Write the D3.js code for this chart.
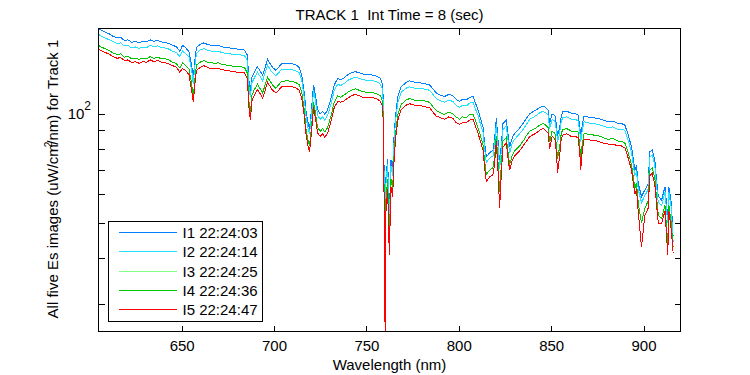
<!DOCTYPE html>
<html>
<head>
<meta charset="utf-8">
<script src="https://cdn.jsdelivr.net/npm/d3@7"></script>
<style>
 body { margin: 0; background: #fff; }
 text { font-family: "Liberation Sans", Arial, Helvetica, sans-serif; fill: #000; }
 .narrow { font-family: "Liberation Sans Narrow", "Liberation Sans", Arial, sans-serif; }
</style>
</head>
<body>
<script>
 // Es spectra of track 1, five images

 // wavelengths (nm), shared by all five images
 var wavelength = [
 	605, 607, 609, 611, 613, 615, 617, 619, 621, 623,
 	625, 627, 629, 631, 633, 635, 637, 639, 641, 643,
 	645, 647, 649, 650.5, 652, 654, 655.5, 656.3, 657, 658,
 	660, 662, 664, 666, 668, 670, 672, 674, 676, 678,
 	680, 682, 684, 685.5, 686.5, 687.2, 688, 689, 691, 692.5,
 	693.8, 695, 696.5, 698, 699.2, 701, 702.5, 704, 706, 708,
 	710, 712, 713.6, 715, 716.3, 717.3, 718.3, 719.2, 720.3, 721.4,
 	722.2, 723.6, 725, 726.3, 727.5, 729, 730.8, 732.6, 734.5, 736,
 	738, 740, 742, 744, 746, 748, 750, 752, 754, 756,
 	757.6, 758.9, 759.4, 759.8, 760.2, 760.6, 761.5, 762.4, 763.3, 764.2,
 	765.1, 766, 767, 768.8, 771.5, 773.3, 776, 778.7, 781, 784.1,
 	786, 787.8, 790, 792.3, 794.5, 796.8, 798.5, 800.4, 802, 804,
 	806, 807.7, 809, 810.4, 812, 813.1, 814, 814.9, 816.7, 818.5,
 	819.4, 820.3, 821.2, 822.1, 823, 823.9, 825.7, 826.6, 827.5, 829,
 	830.2, 832.9, 834.8, 836.6, 838.4, 840.2, 842, 843.8, 845.6, 847,
 	848.3, 849.2, 850.5, 852, 853, 853.4, 854.5, 855.5, 856.4, 858.5,
 	861, 863, 864.6, 865.5, 866, 866.8, 867.8, 869.1, 872, 875.4,
 	878, 880.8, 883.5, 886.3, 888, 889.9, 891.7, 893.5, 895.3, 896.2,
 	897.1, 898.9, 900.7, 902.5, 903.4, 904.7, 906.1, 907, 908, 909.8,
 	911.6, 913.1, 913.7, 915, 916
 ];

 // I1 22:24:03
 var es1 = [
 	171, 169, 167, 165.5, 163, 161.5, 162, 159, 159.5, 157,
 	158, 156.5, 158, 157.5, 159.5, 158, 159, 157.5, 157, 156,
 	154, 153, 148.5, 154, 152, 148, 135, 125, 138, 152,
 	155, 156.5, 155, 154, 153.5, 154, 152.5, 152, 151.5, 151,
 	150.5, 150.5, 149.5, 145, 122, 115, 126, 129, 134.5, 131,
 	127.5, 133, 141, 137, 134, 131.5, 134, 137, 137.5, 137.5,
 	137, 136, 134, 128, 115, 102, 95, 91, 103, 120,
 	114, 102.5, 100, 101.5, 99.5, 102.5, 110, 120, 125, 124,
 	125.5, 128, 129.5, 130.5, 129.5, 128.5, 128, 128, 127.5, 126.5,
 	125, 120, 86, 50, 32, 67, 75, 52, 74.6, 70,
 	90, 101, 111.4, 118.6, 121.7, 123, 122, 121.7, 121, 120,
 	117, 114, 112.5, 111.4, 113, 112, 109.5, 108, 109.5, 109,
 	111, 111.4, 107, 102.4, 96, 92, 83, 76.2, 78, 79.5,
 	85, 97, 85, 73, 82, 94, 96, 88, 81, 86,
 	88.3, 91.2, 94, 97, 100, 101.3, 102.5, 104, 105, 104,
 	102.4, 94.1, 99.8, 99, 92, 86.5, 91, 99, 101.3, 101.5,
 	100.2, 100, 99.2, 92, 86.5, 93, 98.5, 98.1, 97.5, 97.1,
 	96, 95, 95.5, 94, 94, 93, 87.4, 81, 70, 72,
 	64.4, 59.2, 61.7, 64, 78.6, 79.5, 74.6, 66, 59.2, 57.9,
 	63, 52, 63, 57, 46
 ];

 // I2 22:24:14
 var es2 = [
 	165, 163, 161, 159.5, 157.5, 156, 156.5, 153.5, 154, 151.5,
 	152.5, 151, 152.5, 152, 154, 152.5, 153.5, 152, 151.5, 150.5,
 	148.5, 147.5, 143.5, 148.5, 146.5, 143, 130.5, 120.5, 133, 146.5,
 	149.5, 151, 149.5, 148.5, 148, 148.5, 147, 146.5, 146, 145.5,
 	145, 145, 144.5, 140, 117.5, 111, 121.5, 124.5, 130, 126.5,
 	123, 128.5, 136, 132, 129.5, 127, 129.5, 132, 132.5, 132.5,
 	132, 131, 129.5, 123.5, 111, 98.5, 91.5, 88, 99.5, 116,
 	110, 99, 96.5, 98, 96, 99, 106, 116, 120.5, 119.5,
 	121, 123.5, 125, 126, 125, 124, 123.5, 123.5, 123, 122,
 	120.5, 116, 83, 48, 30.5, 64.5, 72.5, 50, 72, 67.5,
 	87, 97.5, 107.5, 114.5, 117.5, 118.5, 117.5, 117.5, 117, 116,
 	113, 110, 108.5, 107.5, 109, 108, 105.5, 104, 105.5, 105,
 	107, 107.5, 103, 99, 92.5, 89, 80, 73.5, 75.5, 76.5,
 	82, 93.5, 82, 70.5, 79, 90.5, 92.5, 85, 78, 83,
 	85, 88, 90.5, 93.5, 96.5, 97.5, 99, 100.5, 101.5, 100.5,
 	99, 91, 96.5, 95.5, 89, 83.5, 88, 95.5, 97.5, 98,
 	96.5, 96.5, 95.5, 89, 83.5, 90, 95, 94.5, 94, 93.5,
 	92.5, 91.5, 92, 90.5, 90.5, 90, 84.5, 78, 67.5, 69.5,
 	62, 57, 59.5, 62, 76, 77, 72, 63.5, 57, 56,
 	61, 50, 61, 55, 44.5
 ];

 // I3 22:24:25
 var es3 = [
 	154, 152, 150.5, 149, 146.5, 145.5, 146, 143, 143.5, 141.5,
 	142, 141, 142, 141.5, 143.5, 142, 143, 141.5, 141.5, 140.5,
 	138.5, 137.5, 133.5, 138, 136, 132.5, 120, 110, 122, 136,
 	138.5, 140, 138.5, 138, 137.5, 138, 136.5, 136, 135.5, 135,
 	134.5, 134.5, 134, 129.5, 107, 100, 112, 115.5, 120.5, 117,
 	114, 119, 126, 122.5, 120, 117.5, 120, 122.5, 123, 123,
 	122.5, 121.5, 120, 114.5, 103, 91, 85, 81.5, 92, 107.5,
 	102, 91.5, 89.5, 91, 89, 91.5, 98.5, 107.5, 112, 111,
 	112.5, 114.5, 116, 117, 116, 115, 114.5, 114.5, 114, 113,
 	112, 107.5, 77, 44, 26, 58, 66, 45, 66, 62,
 	80, 90, 99.5, 106, 109, 110, 109, 109, 108.5, 107.5,
 	104.5, 102, 100.5, 99.5, 101, 100, 98, 96.5, 98, 97.5,
 	99.5, 99.5, 96, 91.5, 86, 82, 74, 68, 70, 71,
 	76, 87, 74, 61, 72, 84, 86, 78.5, 72.5, 77,
 	79, 81.5, 84, 87, 89.5, 90.5, 91.5, 93, 94, 93,
 	91.5, 83.5, 89.5, 88.5, 81, 75, 80.5, 88.5, 90.5, 91,
 	89.5, 89.5, 89, 81.5, 75, 82.5, 88, 88, 87.5, 87,
 	86, 85, 85.5, 84, 84, 83, 78, 72.5, 62.5, 64.5,
 	57, 50, 55, 57.5, 70, 71, 66.5, 59, 52.5, 51.5,
 	56, 44, 56, 50, 43
 ];

 // I4 22:24:36
 var es4 = [
 	154, 152, 150.5, 149, 146.5, 145.5, 146, 143, 143.5, 141.5,
 	142, 141, 142, 141.5, 143.5, 142, 143, 141.5, 141.5, 140.5,
 	138.5, 137.5, 133.5, 138, 136, 132.5, 120, 110, 122, 136,
 	138.5, 140, 138.5, 138, 137.5, 138, 136.5, 136, 135.5, 135,
 	134.5, 134.5, 134, 129.5, 107, 100, 112, 115.5, 120.5, 117,
 	114, 119, 126, 122.5, 120, 117.5, 120, 122.5, 123, 123,
 	122.5, 121.5, 120, 114.5, 103, 91, 85, 81.5, 92, 107.5,
 	102, 91.5, 89.5, 91, 89, 91.5, 98.5, 107.5, 112, 111,
 	112.5, 114.5, 116, 117, 116, 115, 114.5, 114.5, 114, 113,
 	112, 107.5, 77, 44, 26, 58, 66, 45, 66, 62,
 	80, 90, 99.5, 106, 109, 110, 109, 109, 108.5, 107.5,
 	104.5, 102, 100.5, 99.5, 101, 100, 98, 96.5, 98, 97.5,
 	99.5, 99.5, 96, 91.5, 86, 82, 74, 68, 70, 71,
 	76, 87, 74, 61, 72, 84, 86, 78.5, 72.5, 77,
 	79, 81.5, 84, 87, 89.5, 90.5, 91.5, 93, 94, 93,
 	91.5, 83.5, 89.5, 88.5, 81, 75, 80.5, 88.5, 90.5, 91,
 	89.5, 89.5, 89, 81.5, 75, 82.5, 88, 88, 87.5, 87,
 	86, 85, 85.5, 84, 84, 83, 78, 72.5, 62.5, 64.5,
 	57, 50, 55, 57.5, 70, 71, 66.5, 59, 52.5, 51.5,
 	56, 44, 56, 50, 43
 ];

 // I5 22:24:47
 var es5 = [
 	150.5, 148.5, 147, 145.5, 143.5, 142, 142.5, 140, 140.5, 138,
 	139, 137.5, 139, 138.5, 140.5, 139, 140, 138.5, 138, 137,
 	135.5, 134.5, 130, 133, 131.5, 128, 115, 108, 118, 131.5,
 	134, 135.5, 134, 133, 133, 133, 132, 131.5, 131, 130.5,
 	130, 130, 129.5, 125, 103, 96, 108, 111.5, 116.5, 113.5,
 	110.5, 115, 122, 118.5, 116, 114, 116, 118.5, 119, 119,
 	118.5, 117.5, 116, 110.5, 99.5, 88, 82, 78.5, 89, 104,
 	98.5, 88.5, 86.5, 88, 86, 88.5, 95, 104, 108, 107.5,
 	108.5, 110.5, 112, 113, 112, 111, 110.5, 110.5, 110.5, 109.5,
 	108, 104, 74, 40, 22, 54, 62, 41, 63, 59,
 	77, 87, 96, 102.5, 105.5, 106.5, 105.5, 105.5, 104.5, 104,
 	101, 98.5, 97.5, 96.5, 98, 97, 94.5, 93.5, 94.5, 94.5,
 	96, 96.5, 92.5, 88.5, 83, 79.5, 71, 65, 67, 68,
 	73, 84, 70, 55, 68, 81, 83, 76, 70, 74.5,
 	76.5, 79, 81.5, 84, 86.5, 87.5, 88.5, 90, 91, 90,
 	88.5, 80, 86.5, 85.5, 77, 68.5, 76, 85.5, 87.5, 88,
 	86.5, 86.5, 86, 78, 70, 79, 85, 85, 84.5, 84,
 	83, 82.5, 82.5, 81.5, 81.5, 80.5, 75.5, 70, 60, 62,
 	54, 43, 52.5, 55, 67.5, 68.5, 64, 56.5, 50, 50,
 	54, 41, 54, 48, 41.5
 ];

 var seriesNames = ["I1 22:24:03", "I2 22:24:14", "I3 22:24:25", "I4 22:24:36", "I5 22:24:47"];
 var seriesColors = ["#0080ff", "#20e4ff", "#80ff80", "#00c800", "#ff0000"];
 var allSeries = [es1, es2, es3, es4, es5];

 // tick values
 var xTicks = [650, 700, 750, 800, 850, 900];
 var yTicks = [30, 40, 50, 60, 70, 80, 90, 100];

 // svg parameters
 var width = 750,
 	height = 375;
 var plot = {
 	left: 98.5,
 	right: 680.5,
 	top: 28.5,
 	bottom: 331.5
 };

 var svg = d3.select("body").append("svg")
 	.attr("width", width)
 	.attr("height", height)
 	.style("background", "white");

 // scales
 var x = d3.scaleLinear()
 	.domain([605, 920])
 	.range([plot.left, plot.right]);

 var y = d3.scaleLog()
 	.domain([25.2, 171.4])
 	.range([plot.bottom, plot.top]);

 // clip the lines to the axes box
 svg.append("clipPath")
 	.attr("id", "box")
 	.append("rect")
 	.attr("x", plot.left)
 	.attr("y", plot.top)
 	.attr("width", plot.right - plot.left)
 	.attr("height", plot.bottom - plot.top);

 // axes, ticks pointing inwards on all four sides
 var xBottom = svg.append("g")
 	.attr("transform", "translate(0," + plot.bottom + ")")
 	.call(d3.axisBottom(x).tickValues(xTicks).tickSizeInner(-6).tickSizeOuter(0).tickPadding(9));
 xBottom.selectAll("text").attr("class", "narrow").style("font-size", "15px");

 svg.append("g")
 	.attr("transform", "translate(0," + plot.top + ")")
 	.call(d3.axisTop(x).tickValues(xTicks).tickSizeInner(-6).tickSizeOuter(0).tickFormat(""));

 svg.append("g")
 	.attr("transform", "translate(" + plot.left + ",0)")
 	.call(d3.axisLeft(y).tickValues(yTicks).tickSizeInner(-6).tickSizeOuter(0).tickFormat(""));

 svg.append("g")
 	.attr("transform", "translate(" + plot.right + ",0)")
 	.call(d3.axisRight(y).tickValues(yTicks).tickSizeInner(-6).tickSizeOuter(0).tickFormat(""));

 svg.selectAll(".domain").remove();
 svg.selectAll(".tick line").attr("stroke", "#000").attr("shape-rendering", "crispEdges");

 // the only labelled y tick: 10^2
 var yLab = svg.append("text")
 	.attr("class", "narrow")
 	.attr("x", 91)
 	.attr("y", y(100) + 5.5)
 	.attr("text-anchor", "end")
 	.style("font-size", "15px");
 yLab.append("tspan").text("10");
 yLab.append("tspan").attr("dy", -9).style("font-size", "12px").text("2");

 // spectra
 var line = d3.line()
 	.x(function (d) {
 		return x(d[0]);
 	})
 	.y(function (d) {
 		return y(d[1]);
 	});

 svg.append("g")
 	.attr("clip-path", "url(#box)")
 	.selectAll("path")
 	.data(allSeries)
 	.enter().append("path")
 	.attr("fill", "none")
 	.attr("stroke", function (d, i) {
 		return seriesColors[i];
 	})
 	.attr("stroke-width", 1)
 	.attr("shape-rendering", "crispEdges")
 	.attr("d", function (values) {
 		return line(values.map(function (v, j) {
 			return [wavelength[j], v];
 		}));
 	});

 // axes box
 svg.append("rect")
 	.attr("x", plot.left)
 	.attr("y", plot.top)
 	.attr("width", plot.right - plot.left)
 	.attr("height", plot.bottom - plot.top)
 	.attr("fill", "none")
 	.attr("stroke", "#000")
 	.attr("shape-rendering", "crispEdges");

 // title and axis labels
 svg.append("text")
 	.attr("x", (plot.left + plot.right) / 2)
 	.attr("y", 20)
 	.attr("text-anchor", "middle")
 	.style("font-size", "15px")
 	.style("white-space", "pre")
 	.text("TRACK 1  Int Time = 8 (sec)");

 svg.append("text")
 	.attr("x", (plot.left + plot.right) / 2)
 	.attr("y", 370)
 	.attr("text-anchor", "middle")
 	.style("font-size", "15px")
 	.text("Wavelength (nm)");

 var yTitle = svg.append("text")
 	.attr("transform", "translate(57.5,179) rotate(-90)")
 	.attr("text-anchor", "middle")
 	.style("font-size", "15px");
 yTitle.append("tspan").text("All five Es images (uW/cm");
 yTitle.append("tspan").attr("dy", -6).attr("dx", -3).style("font-size", "10px").text("2");
 yTitle.append("tspan").attr("dy", 6).attr("dx", -3).text("/nm) for Track 1");

 // legend
 var legendBox = {
 	x: 108.5,
 	y: 221.5,
 	w: 154,
 	h: 100
 };
 var legend = svg.append("g");

 legend.append("rect")
 	.attr("x", legendBox.x)
 	.attr("y", legendBox.y)
 	.attr("width", legendBox.w)
 	.attr("height", legendBox.h)
 	.attr("fill", "white")
 	.attr("stroke", "#000")
 	.attr("shape-rendering", "crispEdges");

 var rows = legend.selectAll("g.row")
 	.data(seriesNames)
 	.enter().append("g")
 	.attr("class", "row")
 	.attr("transform", function (d, i) {
 		return "translate(0," + (232.5 + i * 19.25) + ")";
 	});

 rows.append("line")
 	.attr("x1", 119)
 	.attr("x2", 177)
 	.attr("stroke", function (d, i) {
 		return seriesColors[i];
 	})
 	.attr("shape-rendering", "crispEdges");

 rows.append("text")
 	.attr("x", 182.5)
 	.attr("y", 5.5)
 	.style("font-size", "15px")
 	.text(function (d) {
 		return d;
 	});
</script>
</body>
</html>
